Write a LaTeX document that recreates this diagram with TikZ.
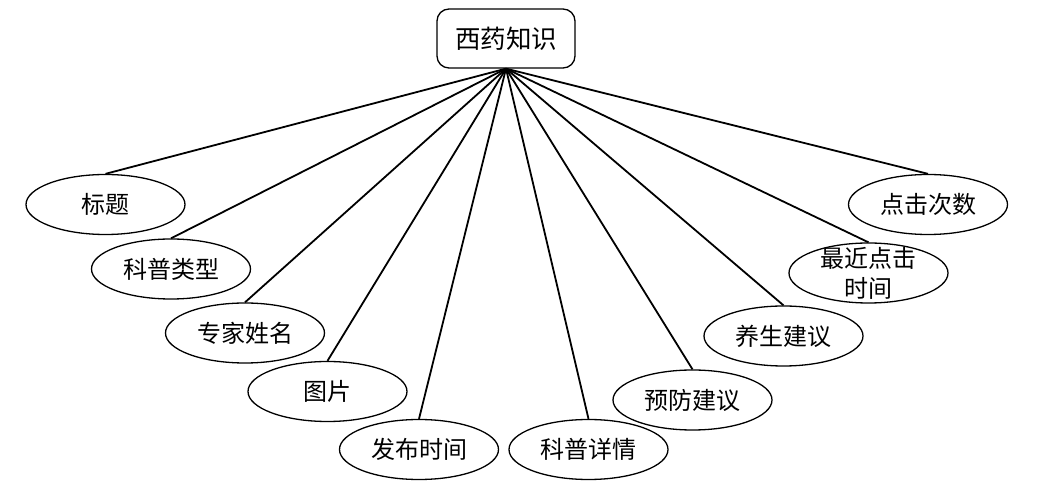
\documentclass[tikz,border=0pt]{standalone}
\usepackage{fontspec}
\setmainfont{Noto Sans CJK SC}
\usetikzlibrary{shapes.geometric}
\begin{document}
\begin{tikzpicture}[x=1pt,y=-1pt,
  attr/.style={draw,ellipse,line width=1.3pt,minimum width=159pt,minimum height=60pt,inner sep=0pt,font=\fontsize{24}{30}\selectfont},
  rootbox/.style={draw,rounded corners=12pt,line width=1.3pt,minimum width=138pt,minimum height=59pt,inner sep=0pt,font=\fontsize{25.5}{30}\selectfont},
  txt/.style={inner sep=0pt,align=center,font=\fontsize{24}{30}\selectfont},
  link/.style={line width=1.8pt}]
\useasboundingbox (0,0) rectangle (1042,502);
\node[rootbox] (root) at (506,38.5) {西药知识};
\node[attr] (a1) at (105.5,204.5) {标题};
\node[attr] (a2) at (171,269) {科普类型};
\node[attr] (a3) at (245,333) {专家姓名};
\node[attr] (a4) at (327.5,391.5) {图片};
\node[attr] (a5) at (419,449.5) {发布时间};
\node[attr] (a6) at (588.5,449.5) {科普详情};
\node[attr] (a7) at (692.5,400) {预防建议};
\node[attr] (a8) at (783.5,336) {养生建议};
\node[attr] (a9) at (868.5,273) {};
\node[txt] (t9) at (a9) {最近点击\\时间};
\node[attr] (a10) at (928,204.5) {点击次数};
\foreach \n in {a1,a2,a3,a4,a5,a6,a7,a8,a9,a10}
  \draw[link] (root.south) -- (\n.north);
\end{tikzpicture}
\end{document}
